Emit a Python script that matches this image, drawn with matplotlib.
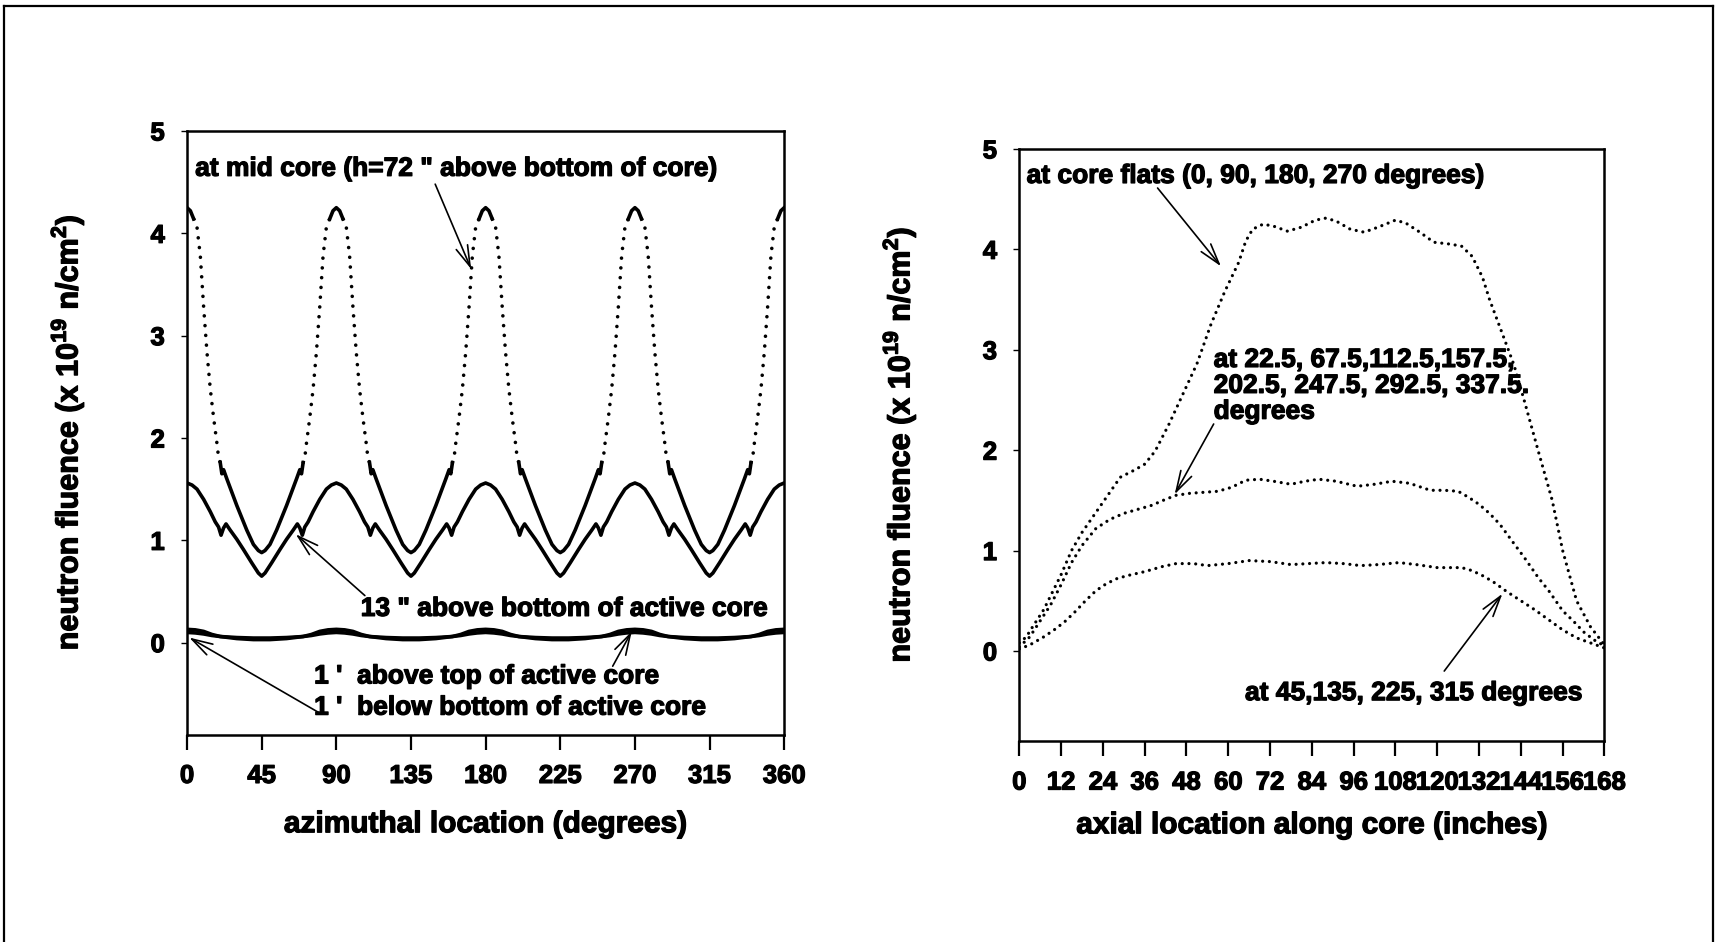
import numpy as np
import matplotlib
matplotlib.use("Agg")
import matplotlib.pyplot as plt
import matplotlib.patheffects as pe
from matplotlib.lines import Line2D

plt.rcParams["font.family"] = ["Liberation Sans", "DejaVu Sans"]
plt.rcParams["font.weight"] = "bold"
plt.rcParams["mathtext.fontset"] = "custom"
plt.rcParams["mathtext.rm"] = "Liberation Sans:bold"
plt.rcParams["mathtext.bf"] = "Liberation Sans:bold"

# azimuthal profiles over one 90 degree sector (0 <= deg < 90);
# the core loading pattern repeats in each quadrant
mid_deg = [0, 2, 4, 6, 8, 10, 12, 14, 16, 18, 19, 20, 21, 22, 24, 30, 36, 40, 43, 45,
           47, 50, 54, 60, 66, 68, 69, 70, 71, 72, 74, 76, 78, 80, 82, 84, 86, 88]
mid_core = [4.25, 4.22, 4.14, 4.06, 3.78, 3.28, 2.84, 2.48, 2.20, 1.95, 1.81, 1.76, 1.65, 1.69,
            1.60, 1.34, 1.10, 0.96, 0.90, 0.88,
            0.90, 0.96, 1.10, 1.34, 1.60, 1.69, 1.65, 1.76, 1.81, 1.95, 2.20, 2.48, 2.84, 3.28,
            3.78, 4.06, 4.14, 4.22]

c13_deg = [0, 3, 6, 10, 14, 17, 19, 20.5, 22, 23.5, 26, 30, 34, 39, 43, 45,
           47, 51, 56, 60, 64, 66.5, 68, 69.5, 71, 73, 76, 80, 84, 87]
above_13in = [1.56, 1.54, 1.50, 1.40, 1.28, 1.18, 1.13, 1.05, 1.12, 1.16, 1.10, 1.01, 0.91, 0.78,
              0.68, 0.65, 0.68, 0.78, 0.91, 1.01, 1.10, 1.16, 1.12, 1.05, 1.13, 1.18, 1.28, 1.40,
              1.50, 1.54]

low_deg = [0, 5, 10, 15, 20, 30, 40, 45, 50, 60, 70, 75, 80, 85]
above_top = [0.13, 0.125, 0.11, 0.08, 0.06, 0.04, 0.03, 0.03, 0.03, 0.04, 0.06, 0.08, 0.11, 0.125]
below_bottom = [0.10, 0.095, 0.085, 0.07, 0.06, 0.05, 0.045, 0.045, 0.045, 0.05, 0.06, 0.07,
                0.085, 0.095]

# axial profiles (inches from bottom of core)
flats_in = [0, 2, 4, 7, 10, 12, 15, 18, 21, 25, 29, 33, 36, 39, 43, 47, 51, 55, 59, 63,
            65, 67, 70, 73, 77, 81, 85, 88, 91, 95, 99, 103, 108, 111, 115, 119, 124, 127, 130,
            133, 135, 139, 142, 145, 149, 153, 156, 160, 164, 168]
flats = [0.08, 0.14, 0.25, 0.41, 0.62, 0.76, 1.00, 1.18, 1.33, 1.53, 1.73, 1.80, 1.86, 1.99, 2.26,
         2.56, 2.86, 3.25, 3.58, 3.87, 4.08, 4.20, 4.25, 4.23, 4.18, 4.22, 4.29, 4.31, 4.28, 4.20,
         4.17, 4.22, 4.29, 4.26, 4.17, 4.07, 4.05, 4.03, 3.93, 3.72, 3.50, 3.13, 2.85, 2.49, 1.99,
         1.50, 1.00, 0.50, 0.24, 0.06]

mid_in = [0, 3, 6, 9, 12, 15, 18, 22, 26, 30, 34, 38, 42, 45, 49, 53, 57, 61, 65, 69, 73, 78,
          82, 86, 91, 97, 102, 107, 112, 118, 122, 126, 129, 132, 135, 138, 142, 145, 149, 152,
          156, 159, 162, 165, 168]
deg_22_5 = [0.04, 0.14, 0.30, 0.46, 0.66, 0.88, 1.05, 1.22, 1.31, 1.37, 1.41, 1.45, 1.51, 1.55,
            1.57, 1.58, 1.59, 1.63, 1.70, 1.71, 1.69, 1.66, 1.69, 1.71, 1.69, 1.64, 1.66, 1.69,
            1.67, 1.60, 1.60, 1.59, 1.53, 1.46, 1.37, 1.26, 1.07, 0.93, 0.73, 0.60, 0.40, 0.30,
            0.19, 0.11, 0.05]

low_in = [0, 3, 7, 10, 13, 16, 19, 22, 25, 28, 31, 36, 41, 45, 50, 54, 60, 66, 72, 78, 83, 88,
          93, 98, 103, 109, 114, 120, 127, 130, 133, 136, 140, 144, 148, 152, 156, 160, 164, 168]
deg_45 = [0.02, 0.06, 0.14, 0.21, 0.29, 0.39, 0.50, 0.60, 0.67, 0.72, 0.75, 0.79, 0.84, 0.87,
          0.87, 0.85, 0.87, 0.90, 0.89, 0.86, 0.87, 0.88, 0.87, 0.85, 0.86, 0.88, 0.86, 0.83,
          0.83, 0.80, 0.75, 0.69, 0.59, 0.50, 0.41, 0.31, 0.21, 0.13, 0.08, 0.03]


def whole_turn(deg, vals):
    x = np.concatenate([np.asarray(deg, float) + 90 * k for k in range(4)] + [[360.0]])
    y = np.concatenate([np.asarray(vals, float)] * 4 + [[vals[0]]])
    return x, y


fig = plt.figure(figsize=(17.16, 9.42), dpi=100)
ax1 = fig.add_axes([0.109, 0.220, 0.348, 0.641])
ax2 = fig.add_axes([0.594, 0.213, 0.341, 0.629])

heavy = [pe.withStroke(linewidth=0.9, foreground="k")]
dots_l = dict(color="k", lw=2.6, linestyle=(0, (0.01, 2.7)), dash_capstyle="round")
dots_r = dict(color="k", lw=2.3, linestyle=(0, (0.01, 2.1)), dash_capstyle="round")

# left: azimuthal distribution (steep flanks of the mid core curve come out dotted)
x, y = whole_turn(mid_deg, mid_core)
solid = (y <= 1.78) | (y >= 4.13)
ax1.plot(x, np.where(solid, y, np.nan), color="k", lw=2.6)
ax1.plot(x, np.where((y >= 1.74) & (y <= 4.15), y, np.nan), **dots_l)
x, y = whole_turn(c13_deg, above_13in)
ax1.plot(x, y, color="k", lw=2.6)
x, y = whole_turn(low_deg, above_top)
ax1.plot(x, y, color="k", lw=2.6)
x, y = whole_turn(low_deg, below_bottom)
ax1.plot(x, y, color="k", lw=2.6)

ax1.set_xlim(0, 360)
ax1.set_ylim(-0.9, 5)
ax1.set_xticks(range(0, 361, 45))
ax1.set_yticks(range(0, 6))
ax1.set_xlabel("azimuthal location (degrees)", fontsize=21.5, fontweight="bold",
               path_effects=heavy)

# right: axial distribution
ax2.plot(flats_in, flats, **dots_r)
ax2.plot(mid_in, deg_22_5, **dots_r)
ax2.plot(low_in, deg_45, **dots_r)
ax2.set_xlim(0, 168)
ax2.set_ylim(-0.9, 5)
ax2.set_xticks(range(0, 169, 12))
ax2.set_yticks(range(0, 6))
ax2.set_xlabel("axial location along core (inches)", fontsize=21.5, fontweight="bold",
               path_effects=heavy)

ylab = r"neutron fluence (x 10$^{\mathbf{19}}$ n/cm$^{\mathbf{2}}$)"
for ax in (ax1, ax2):
    ax.set_ylabel(ylab, fontsize=22, fontweight="bold", path_effects=heavy)
    ax.tick_params(axis="x", direction="out", length=11, width=1.6, pad=10, labelsize=18.5)
    ax.tick_params(axis="y", direction="out", length=4, width=1.0, pad=12, labelsize=18.5)
    for lab in ax.get_xticklabels() + ax.get_yticklabels():
        lab.set_path_effects(heavy)
    for s in ax.spines.values():
        s.set_linewidth(1.8)
ax1.xaxis.set_label_coords(0.5, -0.125)
ax2.xaxis.set_label_coords(0.5, -0.118)
ax1.yaxis.set_label_coords(-0.168, 0.5)
ax2.yaxis.set_label_coords(-0.172, 0.5)

arrow = dict(arrowstyle="->,head_length=0.75,head_width=0.22", color="k", lw=1.2,
             mutation_scale=20, shrinkA=0, shrinkB=0)
txt = dict(fontsize=19, fontweight="bold", va="center", ha="left", path_effects=heavy)

ax1.text(4.9, 4.63, 'at mid core (h=72 " above bottom of core)', **txt)
ax1.annotate("", xy=(171.3, 3.65), xytext=(149.6, 4.48), arrowprops=arrow)
ax1.text(104.7, 0.33, '13 " above bottom of active core', **txt)
ax1.annotate("", xy=(65.5, 1.06), xytext=(107.2, 0.46), arrowprops=arrow)
ax1.text(76.6, -0.33, "1 '  above top of active core", **txt)
ax1.annotate("", xy=(268.1, 0.11), xytext=(256.6, -0.23), arrowprops=arrow)
ax1.text(76.6, -0.635, "1 '  below bottom of active core", **txt)
ax1.annotate("", xy=(1.3, 0.05), xytext=(79.1, -0.68), arrowprops=arrow)

ax2.text(2.1, 4.73, "at core flats (0, 90, 180, 270 degrees)", **txt)
ax2.annotate("", xy=(57.9, 3.83), xytext=(39.7, 4.61), arrowprops=arrow)
ax2.text(55.8, 2.64, "at 22.5, 67.5,112.5,157.5,\n202.5, 247.5, 292.5, 337.5.\ndegrees",
         linespacing=1.1, **txt)
ax2.annotate("", xy=(44.6, 1.56), xytext=(55.8, 2.26), arrowprops=arrow)
ax2.text(64.8, -0.42, "at 45,135, 225, 315 degrees", **txt)
ax2.annotate("", xy=(138.7, 0.57), xytext=(122.0, -0.20), arrowprops=arrow)

# page frame
for xs, ys in (([0.0025, 0.0025], [0.0, 0.994]), ([0.0025, 0.998], [0.994, 0.994]),
               ([0.998, 0.998], [0.0, 0.994])):
    fig.add_artist(Line2D(xs, ys, color="k", lw=1.6, transform=fig.transFigure))

fig.savefig("out.png", dpi=100)
